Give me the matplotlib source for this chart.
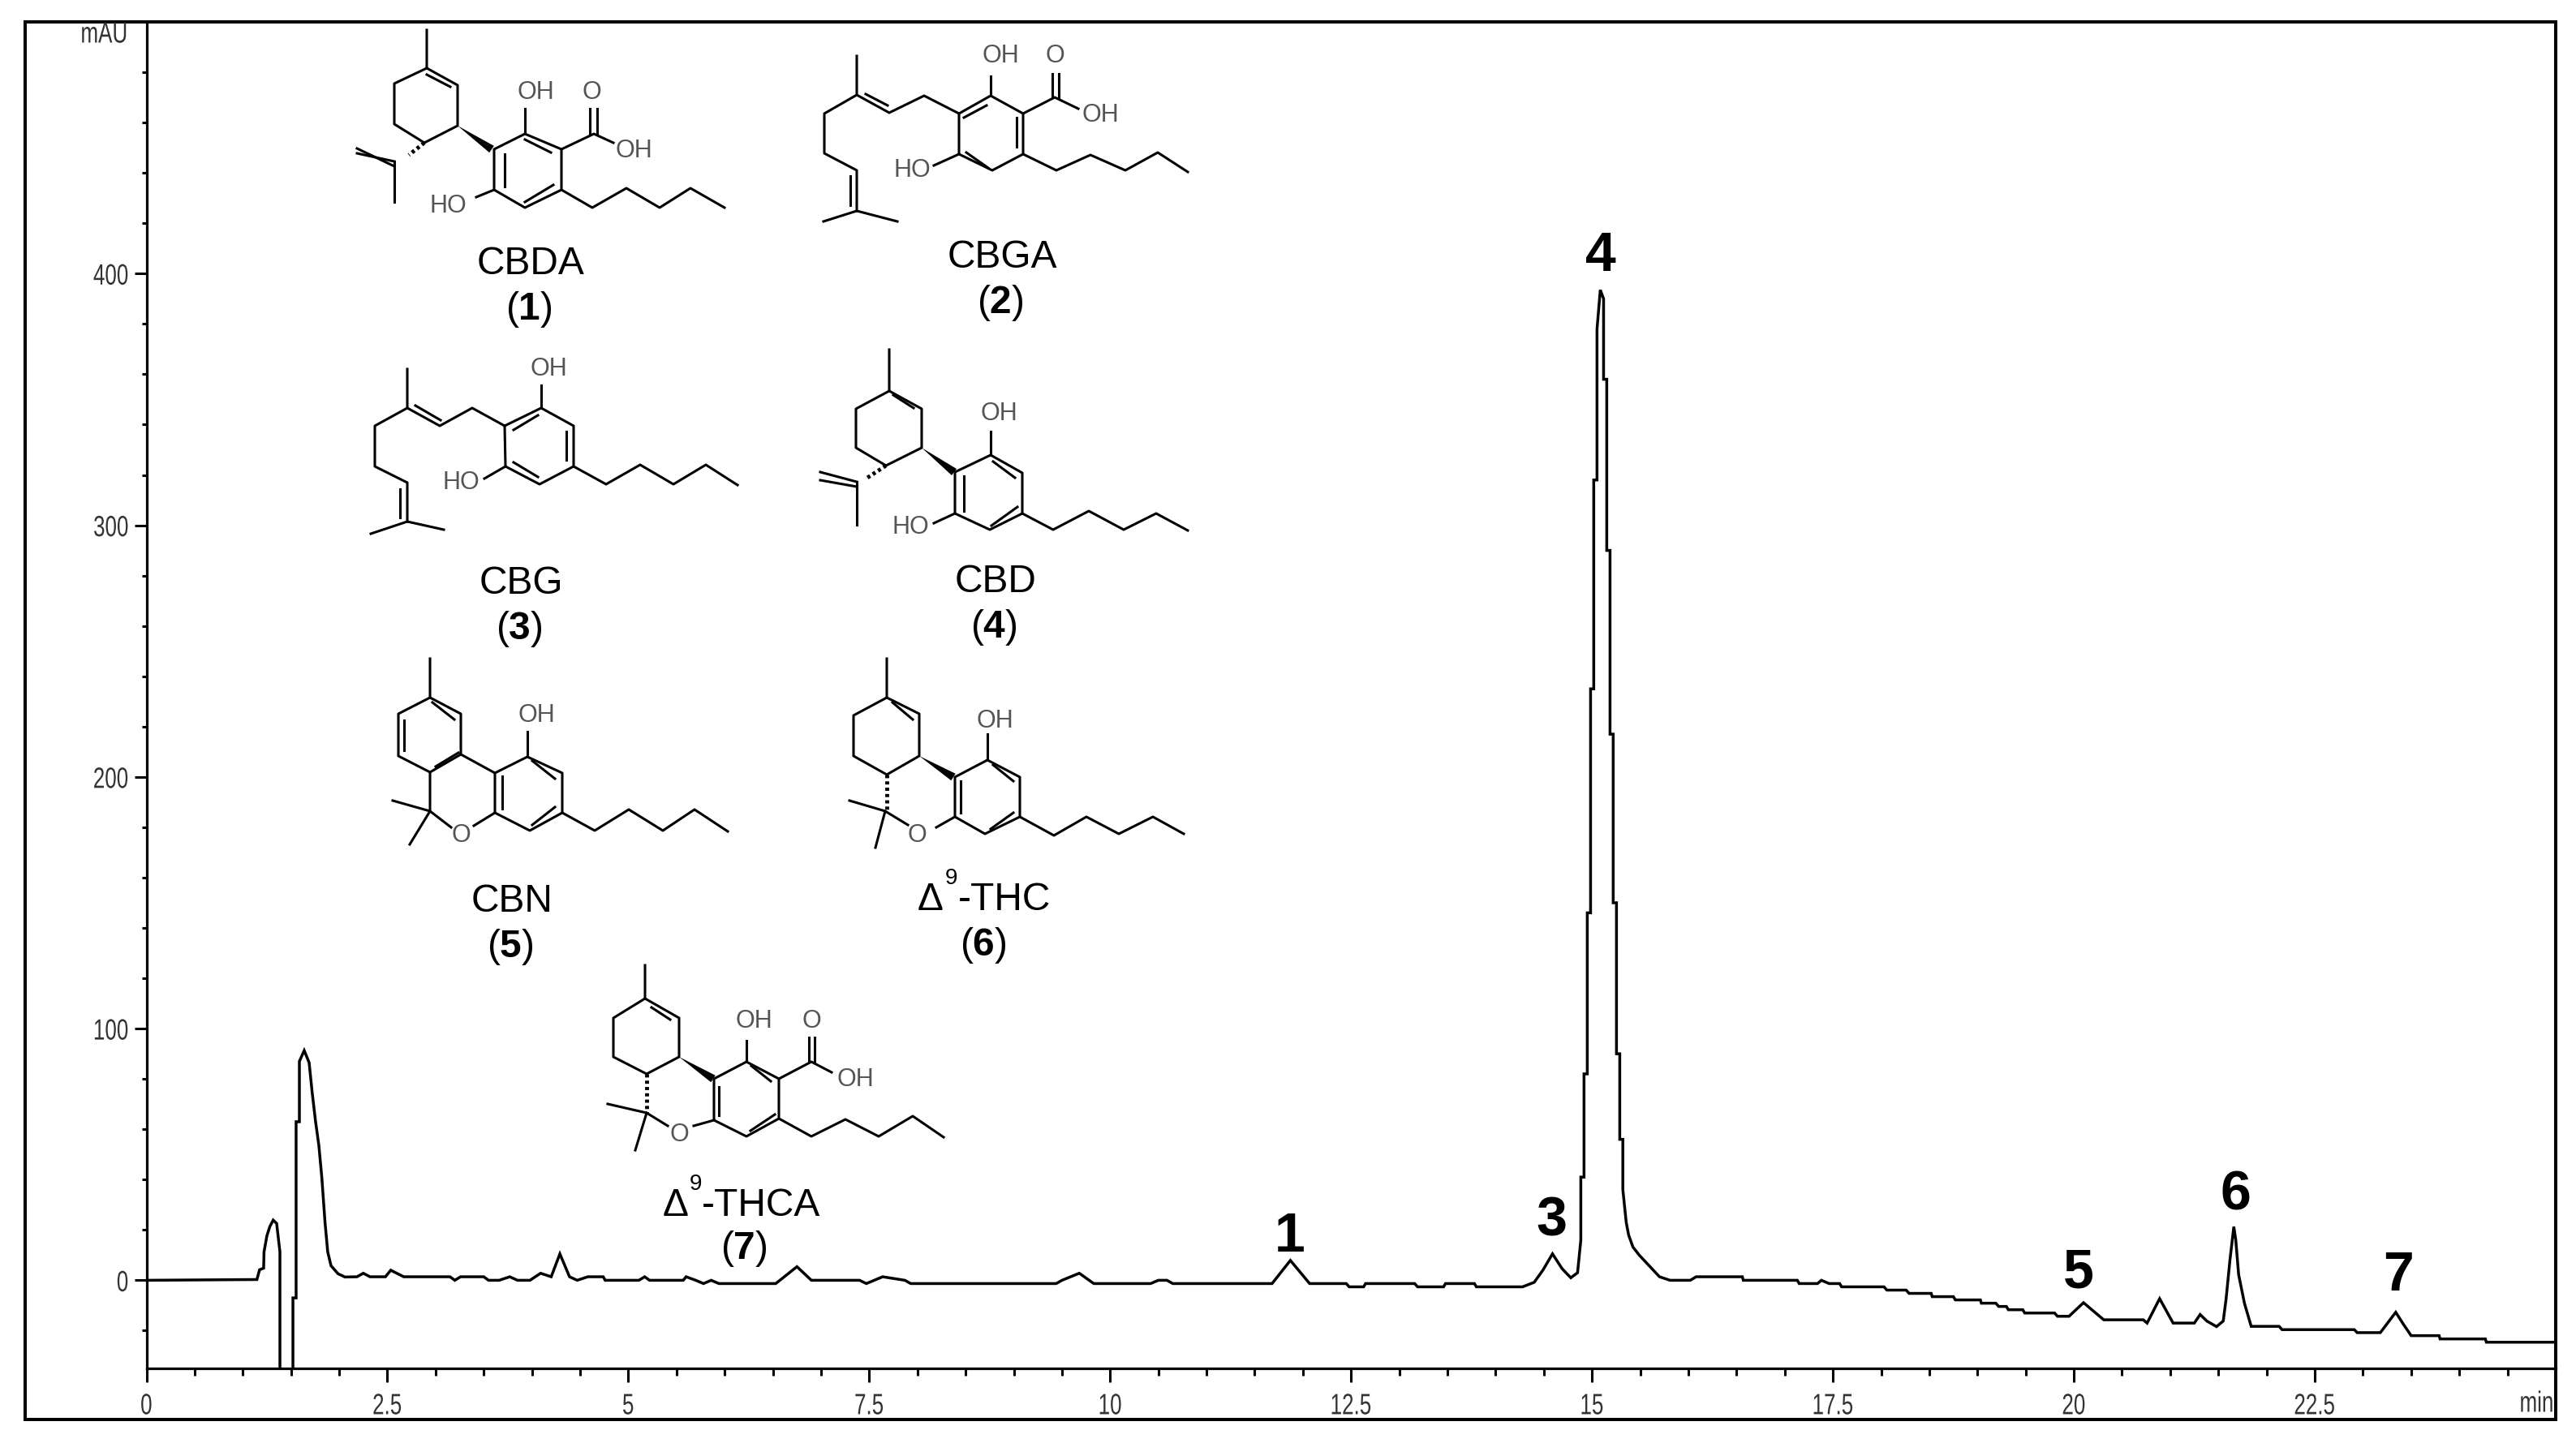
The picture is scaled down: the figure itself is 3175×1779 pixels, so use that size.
import numpy as np
import matplotlib

matplotlib.use("Agg")

import matplotlib.pyplot as plt
from matplotlib.lines import Line2D
from matplotlib.patches import Polygon, Rectangle
from matplotlib.patheffects import AbstractPathEffect
from matplotlib.transforms import Affine2D


WIDTH = 3175
HEIGHT = 1779

plt.rcParams["font.family"] = ["Liberation Sans", "DejaVu Sans"]
plt.rcParams["mathtext.fontset"] = "custom"
plt.rcParams["mathtext.rm"] = "Liberation Sans"
plt.rcParams["mathtext.bf"] = "Liberation Sans:bold"

# chromatogram
t_solvent = [0, 1.146, 1.174, 1.216, 1.22, 1.25, 1.28, 1.315, 1.351, 1.385, 1.385,
             1.52, 1.52, 1.553, 1.553, 1.587, 1.587, 1.637, 1.688, 1.72, 1.755,
             1.789, 1.82, 1.853, 1.881, 1.915, 1.988, 2.06]
y_solvent = [0, 0.3, 4.2, 4.8, 11.3, 17.7, 21.3, 23.9, 22.6, 11.3, -60,
             -60, -7, -7, 63, 63, 87, 91.3, 86.5, 74.5, 63,
             53.6, 40.7, 23, 11.3, 5.8, 2.6, 1.3]

t_early = [2.185, 2.25, 2.32, 2.48, 2.535, 2.67, 3.15, 3.2, 3.26, 3.5, 3.55, 3.66,
           3.77, 3.85, 3.98, 4.09, 4.2, 4.29, 4.39, 4.47, 4.58, 4.74, 4.76, 5.11,
           5.17, 5.22, 5.57, 5.6, 5.7, 5.78, 5.86, 5.94, 6.02, 6.53, 6.75, 6.9,
           7.4, 7.47, 7.64, 7.87, 7.93, 9.44, 9.5, 9.68, 9.83, 10.42, 10.5, 10.59,
           10.65, 11.68, 11.87, 12.07, 12.45, 12.48, 12.63, 12.65, 13.16, 13.19,
           13.46, 13.48, 13.78, 13.8, 14.28, 14.4, 14.49, 14.59, 14.69, 14.78, 14.85]
y_early = [1.4, 2.8, 1.4, 1.4, 4, 1.4, 1.4, 0, 1.4, 1.4, 0, 0,
           1.4, 0, 0, 2.8, 1.4, 10.5, 1.4, 0, 1.4, 1.4, 0, 0,
           1.4, 0, 0, 1.4, 0, -1.3, 0, -1.3, -1.3, -1.3, 5.4, 0,
           0, -1.3, 1.4, 0, -1.3, -1.3, 0, 2.8, -1.3, -1.3, 0, 0,
           -1.3, -1.3, 7.9, -1.3, -1.3, -2.6, -2.6, -1.3, -1.3, -2.6,
           -2.6, -1.3, -1.3, -2.6, -2.6, -0.8, 4, 10.5, 4.6, 1, 3]

t_main = [14.884, 14.884, 14.917, 14.917, 14.951, 14.951, 14.985, 14.985, 15.018,
          15.018, 15.052, 15.052, 15.086, 15.12, 15.12, 15.153, 15.153, 15.187,
          15.187, 15.22, 15.22, 15.254, 15.254, 15.288, 15.288, 15.32, 15.32,
          15.355, 15.38, 15.425, 15.49, 15.7, 15.81, 16.02, 16.08]
y_main = [16, 41, 41, 82, 82, 146, 146, 235, 235,
          318, 318, 378, 393.5, 390, 358, 358, 290, 290,
          217, 217, 150, 150, 90, 90, 56, 56, 36,
          23, 18, 13.2, 10, 1.4, 0, 0, 1.4]

t_late = [16.56, 16.57, 17.13, 17.15, 17.34, 17.38, 17.46, 17.57, 17.59, 18.03,
          18.06, 18.26, 18.29, 18.52, 18.53, 18.75, 18.77, 19.03, 19.04, 19.19,
          19.22, 19.3, 19.32, 19.47, 19.49, 19.8, 19.83, 19.95, 20.1, 20.31,
          20.72, 20.76, 20.89, 21.03, 21.25, 21.31, 21.38, 21.48, 21.55, 21.58,
          21.62, 21.66, 21.68, 21.71, 21.77, 21.84, 22.13, 22.16, 22.91, 22.94,
          23.18, 23.34, 23.42, 23.5, 23.79, 23.8, 24.27, 24.28, 25]
y_late = [1.4, 0, 0, -1.3, -1.3, 0, -1.3, -1.3, -2.6, -2.6,
          -3.9, -3.9, -5.2, -5.2, -6.5, -6.5, -7.8, -7.8, -9.1, -9.1,
          -10.4, -10.4, -11.7, -11.7, -13, -13, -14.3, -14.3, -8.9, -15.7,
          -15.7, -17, -7.3, -17, -17, -13.6, -16.2, -18.4, -16.2, -7.3,
          8.2, 21.3, 16, 2.2, -9.1, -18.3, -18.3, -19.6, -19.6, -20.8,
          -20.8, -12.7, -17.5, -22, -22, -23.3, -23.3, -24.6, -24.6]

x_major = [0, 2.5, 5, 7.5, 10, 12.5, 15, 17.5, 20, 22.5]
x_labels = ["0", "2.5", "5", "7.5", "10", "12.5", "15", "17.5", "20", "22.5"]
y_major = [0, 100, 200, 300, 400]

peak_names = ["1", "3", "4", "5", "6", "7"]
peak_times = [11.86, 14.58, 15.09, 20.05, 21.68, 23.37]
peak_heights = [17.1, 23.6, 407, 2.9, 33.8, 1.9]

# molecule drawings, in pixels of the full picture: bond polylines
CBDA_BONDS = [
    [(526, 37), (526, 84), (564, 105), (564, 155), (523, 176), (486, 153), (486, 103), (526, 84)],
    [(526, 92), (555, 107)],
    [(486, 199), (440, 189)], [(486, 205), (440, 183)], [(486, 199), (486, 249)],
    [(647, 165), (692, 184), (692, 234), (647, 256), (609, 234), (609, 184), (647, 165)],
    [(622, 190), (622, 230)], [(647, 172), (679, 188)], [(647, 249), (682, 228)],
    [(647, 134), (647, 165)],
    [(692, 184), (732, 165), (756, 176)],
    [(727, 134), (727, 165)], [(736, 134), (736, 165)],
    [(609, 234), (587, 243)],
    [(692, 234), (730, 256), (772, 232), (813, 256), (851, 232), (893, 256)],
]
CBDA_WEDGES = [[(564, 155), (606, 184)]]
CBDA_HASHES = [[(523, 176), (504, 191)]]
CBDA_ATOMS = [("OH", 660, 114), ("O", 729, 114), ("OH", 781, 186), ("HO", 552, 254)]

CBGA_BONDS = [
    [(1056, 69), (1056, 117), (1096, 139), (1139, 118), (1182, 140)],
    [(1067, 116), (1094, 130)],
    [(1056, 117), (1016, 140), (1016, 189), (1056, 210), (1056, 260)],
    [(1048, 217), (1048, 253)],
    [(1015, 273), (1056, 260), (1106, 273)],
    [(1182, 140), (1221, 118), (1261, 140), (1261, 190), (1223, 210), (1182, 190), (1182, 140)],
    [(1188, 145), (1216, 130)], [(1253, 145), (1253, 181)], [(1191, 188), (1218, 207)],
    [(1221, 94), (1221, 118)],
    [(1261, 140), (1300, 120), (1329, 134)],
    [(1297, 91), (1297, 120)], [(1305, 91), (1305, 120)],
    [(1182, 190), (1151, 204)],
    [(1261, 190), (1302, 210), (1344, 191), (1387, 210), (1427, 188), (1464, 212)],
]
CBGA_ATOMS = [("OH", 1233, 69), ("O", 1300, 69), ("OH", 1356, 142), ("HO", 1124, 210)]

CBG_BONDS = [
    [(502, 455), (502, 503), (542, 525), (582, 503), (622, 525)],
    [(512, 500), (543, 518)],
    [(502, 503), (462, 525), (462, 575), (502, 595), (502, 643)],
    [(493, 603), (493, 638)],
    [(457, 658), (502, 643), (547, 653)],
    [(622, 525), (667, 503), (707, 525), (707, 575), (665, 597), (623, 575), (622, 525)],
    [(633, 530), (663, 512)], [(698, 532), (698, 567)], [(633, 570), (663, 588)],
    [(667, 475), (667, 503)],
    [(623, 575), (597, 590)],
    [(707, 575), (747, 597), (789, 573), (830, 597), (870, 573), (909, 598)],
]
CBG_ATOMS = [("OH", 676, 455), ("HO", 568, 595)]

CBD_BONDS = [
    [(1096, 431), (1096, 482), (1136, 504), (1136, 552), (1092, 574), (1055, 552), (1055, 504), (1096, 482)],
    [(1101, 487), (1126, 503)],
    [(1056, 594), (1011, 582)], [(1056, 600), (1011, 592)], [(1056, 594), (1056, 647)],
    [(1221, 561), (1260, 583), (1260, 633), (1220, 653), (1177, 633), (1177, 582), (1221, 561)],
    [(1188, 587), (1188, 630)], [(1224, 569), (1251, 589)], [(1222, 648), (1254, 625)],
    [(1221, 532), (1221, 561)],
    [(1177, 633), (1151, 645)],
    [(1260, 633), (1298, 653), (1342, 630), (1385, 653), (1425, 633), (1464, 654)],
]
CBD_WEDGES = [[(1136, 552), (1176, 582)]]
CBD_HASHES = [[(1092, 574), (1069, 589)]]
CBD_ATOMS = [("OH", 1231, 510), ("HO", 1122, 650)]

CBN_BONDS = [
    [(530, 812), (530, 860), (568, 880), (568, 930), (530, 952), (491, 932), (491, 880), (530, 860)],
    [(533, 866), (560, 887)], [(498, 888), (498, 925)], [(537, 945), (565, 928)],
    [(568, 930), (610, 953)],
    [(650, 933), (693, 953), (693, 1002), (653, 1024), (610, 1002), (610, 953), (650, 933)],
    [(656, 938), (684, 960)], [(619, 957), (619, 997)], [(656, 1017), (684, 995)],
    [(650, 902), (650, 933)],
    [(530, 952), (530, 1000), (556, 1020)],
    [(584, 1018), (610, 1002)],
    [(484, 987), (530, 1000), (505, 1041)],
    [(693, 1002), (733, 1024), (775, 998), (817, 1024), (856, 998), (897, 1025)],
]
CBN_ATOMS = [("OH", 661, 882), ("O", 568, 1030)]

THC_BONDS = [
    [(1093, 812), (1093, 860), (1133, 880), (1133, 932), (1093, 955), (1052, 932), (1052, 882), (1093, 860)],
    [(1100, 866), (1125, 887)],
    [(1217, 937), (1257, 958), (1257, 1007), (1214, 1028), (1177, 1007), (1177, 958), (1217, 937)],
    [(1224, 943), (1249, 963)], [(1184, 963), (1184, 1002)], [(1221, 1022), (1249, 1002)],
    [(1217, 905), (1217, 937)],
    [(1047, 987), (1091, 1000), (1079, 1045)],
    [(1091, 1000), (1119, 1017)],
    [(1154, 1020), (1177, 1007)],
    [(1257, 1007), (1299, 1030), (1339, 1007), (1379, 1028), (1421, 1007), (1459, 1028)],
]
THC_WEDGES = [[(1133, 932), (1175, 958)]]
THC_HASHES = [[(1093, 955), (1093, 998)]]
THC_ATOMS = [("OH", 1226, 889), ("O", 1130, 1030)]

THCA_BONDS = [
    [(795, 1190), (795, 1231), (837, 1255), (837, 1303), (797, 1324), (756, 1303), (756, 1255), (795, 1231)],
    [(803, 1242), (826, 1257)],
    [(920, 1309), (960, 1330), (960, 1379), (920, 1401), (880, 1381), (880, 1330), (920, 1309)],
    [(926, 1314), (950, 1333)], [(886, 1340), (886, 1375)], [(925, 1394), (955, 1374)],
    [(920, 1283), (920, 1309)],
    [(960, 1330), (1000, 1309), (1025, 1322)],
    [(997, 1279), (997, 1309)], [(1004, 1279), (1004, 1309)],
    [(749, 1361), (797, 1372), (783, 1418)],
    [(797, 1372), (823, 1388)],
    [(855, 1388), (880, 1381)],
    [(960, 1379), (1000, 1401), (1042, 1380), (1083, 1401), (1125, 1376), (1163, 1402)],
]
THCA_WEDGES = [[(837, 1303), (879, 1330)]]
THCA_HASHES = [[(797, 1324), (797, 1372)]]
THCA_ATOMS = [("OH", 929, 1259), ("O", 1000, 1259), ("OH", 1054, 1331), ("O", 837, 1399)]


class Squeeze(AbstractPathEffect):
    # the instrument font is narrower than anything installed

    def __init__(self, factor, anchor):
        super().__init__()
        self.factor = factor
        self.anchor = anchor

    def draw_path(self, renderer, gc, tpath, affine, rgbFace=None):
        shift = self.anchor * (1 - self.factor) * tpath.get_extents().x1
        squeezed = Affine2D().scale(self.factor, 1).translate(shift, 0) + affine
        renderer.draw_path(gc, tpath, squeezed, rgbFace)


def pixel_transform(fig):

    return Affine2D().scale(1 / WIDTH, -1 / HEIGHT).translate(0, 1) + fig.transFigure


def draw_molecule(fig, bonds, atoms, wedges=(), hashes=()):

    trans = pixel_transform(fig)

    for bond in bonds:
        xs, ys = zip(*bond)
        fig.add_artist(Line2D(xs, ys, transform=trans, color="black", lw=2.2))

    for (x0, y0), (x1, y1) in wedges:
        length = np.hypot(x1 - x0, y1 - y0)
        nx = -(y1 - y0) / length * 5
        ny = (x1 - x0) / length * 5
        fig.add_artist(Polygon(
            [(x0, y0), (x1 + nx, y1 + ny), (x1 - nx, y1 - ny)],
            transform=trans, color="black", lw=0
        ))

    for (x0, y0), (x1, y1) in hashes:
        fig.add_artist(Line2D(
            [x0, x1], [y0, y1], transform=trans, color="black", lw=3.5,
            dashes=(0.8, 0.8)
        ))

    for text, x, y in atoms:
        pixel_text(fig, x, y, text, size=22, color="#555555")


def pixel_text(fig, x, y, text, ha="center", va="center", **kwargs):

    return fig.text(x / WIDTH, 1 - y / HEIGHT, text, ha=ha, va=va, **kwargs)


def compound_label(fig, x, y, name, number):

    pixel_text(fig, x, y + 4, name, size=34.5)
    pixel_text(fig, x - 2, y + 60, "($\\mathbf{" + number + "}$)", size=34.5)


def delta_label(fig, x_delta, x_nine, x_rest, baseline, rest, x_number, y_number, number):

    pixel_text(fig, x_delta, baseline, "\u0394", ha="left", va="baseline", size=34.5)
    pixel_text(fig, x_nine, baseline - 32, "9", ha="left", va="baseline", size=20)
    pixel_text(fig, x_rest, baseline, rest, ha="left", va="baseline", size=34.5)
    pixel_text(fig, x_number, y_number, "($\\mathbf{" + number + "}$)", size=34.5)


def draw_chromatogram(ax):

    times = t_solvent + t_early + t_main + t_late
    signal = y_solvent + y_early + y_main + y_late

    ax.plot(times, signal, color="black", lw=2.5, solid_joinstyle="miter")

    for name, t, height in zip(peak_names, peak_times, peak_heights):
        ax.text(t, height, name, ha="center", va="center",
                fontsize=49, fontweight="bold", color="black")


def format_axes(ax):

    ax.set_xlim(0, 25)
    ax.set_ylim(-35, 500)

    ax.spines["top"].set_visible(False)
    ax.spines["right"].set_visible(False)
    ax.spines["left"].set_linewidth(2.3)
    ax.spines["bottom"].set_linewidth(2.3)

    ax.set_xticks(x_major)
    ax.set_xticklabels(x_labels)
    ax.set_xticks(np.arange(0, 25, 0.5), minor=True)
    ax.set_yticks(y_major)
    ax.set_yticks(np.arange(-20, 500, 20), minor=True)

    ax.tick_params(axis="x", which="major", length=12.2, width=2.2, pad=9)
    ax.tick_params(axis="x", which="minor", length=6.5, width=2.2)
    ax.tick_params(axis="y", which="major", length=10.8, width=2.2, pad=5)
    ax.tick_params(axis="y", which="minor", length=4.5, width=2.2)

    for label in ax.get_xticklabels():
        label.set_fontsize(26)
        label.set_color("#333333")
        label.set_path_effects([Squeeze(0.72, 0.5)])

    for label in ax.get_yticklabels():
        label.set_fontsize(26)
        label.set_color("#333333")
        label.set_path_effects([Squeeze(0.72, 1)])


def main():

    fig = plt.figure(figsize=(WIDTH / 100, HEIGHT / 100), dpi=100)

    ax = fig.add_axes([
        180.5 / WIDTH,
        1 - 1687 / HEIGHT,
        (3150 - 180.5) / WIDTH,
        (1687 - 27) / HEIGHT
    ])
    ax.patch.set_alpha(0)

    draw_chromatogram(ax)
    format_axes(ax)

    fig.add_artist(Rectangle(
        (31, 27), 3150 - 31, 1750 - 27,
        transform=pixel_transform(fig), fill=False, edgecolor="black", lw=2.9
    ))

    for x, y, text in [(158, 43, "mAU"), (3148, 1731, "min")]:
        label = pixel_text(fig, x, y, text, ha="right", size=26, color="#333333")
        label.set_path_effects([Squeeze(0.72, 1)])

    draw_molecule(fig, CBDA_BONDS, CBDA_ATOMS, CBDA_WEDGES, CBDA_HASHES)
    draw_molecule(fig, CBGA_BONDS, CBGA_ATOMS)
    draw_molecule(fig, CBG_BONDS, CBG_ATOMS)
    draw_molecule(fig, CBD_BONDS, CBD_ATOMS, CBD_WEDGES, CBD_HASHES)
    draw_molecule(fig, CBN_BONDS, CBN_ATOMS)
    draw_molecule(fig, THC_BONDS, THC_ATOMS, THC_WEDGES, THC_HASHES)
    draw_molecule(fig, THCA_BONDS, THCA_ATOMS, THCA_WEDGES, THCA_HASHES)

    compound_label(fig, 654, 321, "CBDA", "1")
    compound_label(fig, 1235, 314, "CBGA", "2")
    compound_label(fig, 642, 715, "CBG", "3")
    compound_label(fig, 1227, 714, "CBD", "4")
    compound_label(fig, 631, 1108, "CBN", "5")

    delta_label(fig, 1131, 1165, 1181, 1122, "-THC", 1212, 1165, "6")
    delta_label(fig, 817, 850, 865, 1499, "-THCA", 917, 1539, "7")

    fig.savefig("out.png", dpi=100, facecolor="white")


if __name__ == "__main__":
    main()
